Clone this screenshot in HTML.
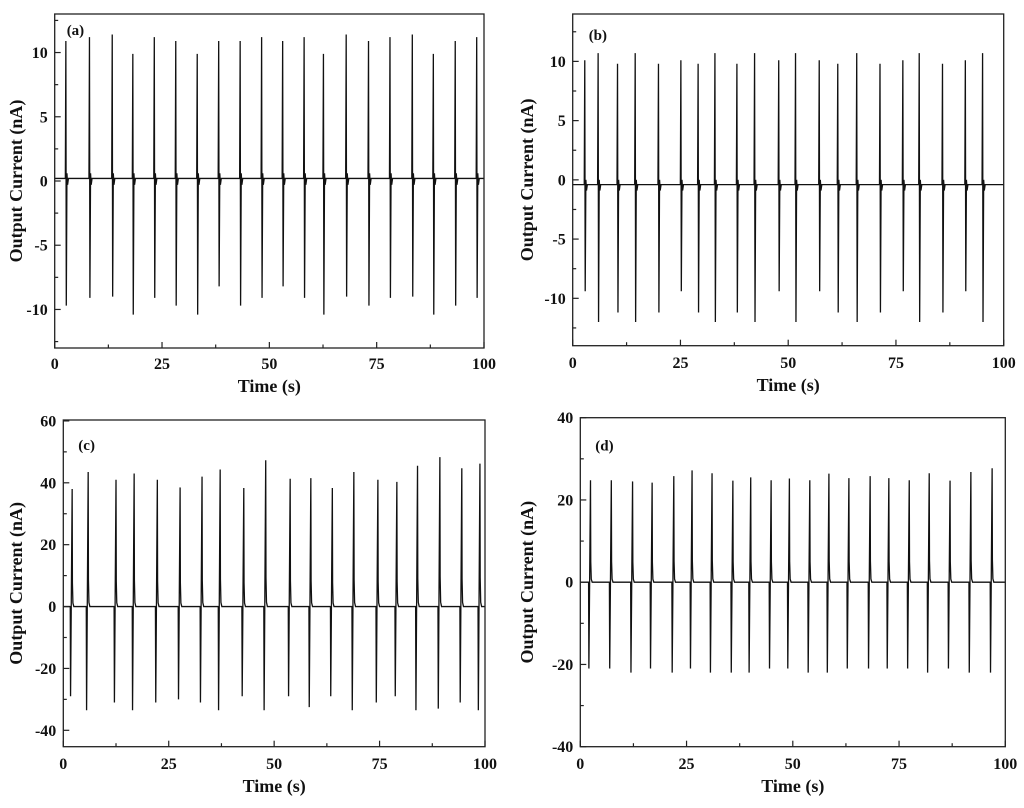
<!DOCTYPE html>
<html><head><meta charset="utf-8"><style>
html,body{margin:0;padding:0;background:#fff;}
svg text{font-family:"Liberation Serif",serif;font-weight:bold;fill:#111;}
</style></head><body>
<svg id="fig" width="1024" height="803" viewBox="0 0 1024 803" xmlns="http://www.w3.org/2000/svg"></svg>
<script>
// ---- Panel (a) data ----
const aTimes=[2.6,8.1,13.4,18.2,23.2,28.2,33.2,38.2,43.2,48.2,53.1,58.1,62.6,67.9,73.1,78.1,83.3,88.2,93.3,98.3];
const aPeaks=[10.9,11.2,11.4,9.9,11.2,10.9,9.9,10.9,10.9,11.2,10.9,11.2,9.9,11.4,10.9,11.2,11.4,9.9,10.9,11.2];
const aTroughs=[-9.7,-9.1,-9,-10.4,-9.1,-9.7,-10.4,-8.2,-9.7,-9.1,-8.2,-9.1,-10.4,-9,-9.7,-9.1,-9,-10.4,-9.7,-9.1];
const aYTicks=[-10,-5,0,5,10];
// ---- Panel (b) data ----
const bTimes=[2.8,5.9,10.4,14.5,19.9,25.1,29.1,33.0,38.1,42.2,47.8,51.7,57.2,61.5,65.9,71.3,76.6,80.4,85.8,91.1,95.1];
const bPeaks=[10.1,10.7,9.8,10.7,9.8,10.1,9.8,10.7,9.8,10.7,10.1,10.7,10.1,9.8,10.7,9.8,10.1,10.7,9.8,10.1,10.7];
const bTroughs=[-9.4,-12,-11.2,-12,-11.2,-9.4,-11.2,-12,-11.2,-12,-9.4,-12,-9.4,-11.2,-12,-11.2,-9.4,-12,-11.2,-9.4,-12];
const bYTicks=[-10,-5,0,5,10];
// ---- Panel (c) data ----
const cTimes=[2.1,5.9,12.5,16.8,22.3,27.7,32.9,37.2,42.8,48.0,53.8,58.7,63.8,68.9,74.6,79.1,84.0,89.3,94.5,98.8];
const cPeaks=[38,43.5,41,43,41,38.5,42,44.3,38.3,47.3,41.3,41.5,38.3,43.5,41,40.3,45.5,48.3,44.7,46.2];
const cTroughs=[-29,-33.5,-31,-33.5,-31,-30,-31,-33.5,-29,-33.5,-29,-32.5,-29,-33.5,-31,-29,-33.5,-33,-31,-33.5];
const cYTicks=[-40,-20,0,20,40,60];
// ---- Panel (d) data ----
const dTimes=[2.4,7.3,12.3,16.9,22.0,26.3,31.0,35.9,40.1,44.9,49.2,54.0,58.5,63.2,68.2,72.6,77.4,82.1,87.0,91.9,96.9];
const dPeaks=[24.8,24.8,24.5,24.2,25.8,27.2,26.5,24.7,25.5,24.8,25.2,24.8,26.4,25.3,25.8,25.3,24.8,26.5,24.7,26.8,27.7];
const dTroughs=[-21,-21,-22,-21,-22,-21,-22,-22,-22,-21,-21,-22,-22,-21,-21,-21,-21,-22,-21,-22,-22];
const dYTicks=[-40,-20,0,20,40];
const xTicks=[0,25,50,75,100];

const NS="http://www.w3.org/2000/svg";
const svg=document.getElementById('fig');
function mk(tag,attrs,parent){const e=document.createElementNS(NS,tag);for(const k in attrs)e.setAttribute(k,attrs[k]);(parent||svg).appendChild(e);return e;}

const panels=[
 {id:'a',x0:54.7,x1:484,y0:14,y1:348,ymin:-13,ymax:13,minor:2.5,times:aTimes,peaks:aPeaks,troughs:aTroughs,yt:aYTicks,base:0.2,mode:'pt',labY:363,titleY:386},
 {id:'b',x0:572.7,x1:1003.7,y0:14,y1:345.7,ymin:-14,ymax:14,minor:2.5,times:bTimes,peaks:bPeaks,troughs:bTroughs,yt:bYTicks,base:-0.4,mode:'pt',labY:362,titleY:385},
 {id:'c',x0:63.3,x1:485,y0:420,y1:746.7,ymin:-45.3,ymax:60.3,minor:10,times:cTimes,peaks:cPeaks,troughs:cTroughs,yt:cYTicks,base:0,mode:'tp',labY:763,titleY:786},
 {id:'d',x0:580.3,x1:1005.3,y0:417.7,y1:746.7,ymin:-40,ymax:40,minor:10,times:dTimes,peaks:dPeaks,troughs:dTroughs,yt:dYTicks,base:0,mode:'tp',labY:763,titleY:786}
];

panels.forEach(p=>{
  const g=mk('g',{});
  
  
  const sx=t=>p.x0+(t/100)*(p.x1-p.x0);
  const sy=v=>p.y1-(v-p.ymin)/(p.ymax-p.ymin)*(p.y1-p.y0);
  let pts=[[0,p.base]];
  p.times.forEach((t,i)=>{
    const pk=p.peaks[i],tr=p.troughs[i];
    if(p.mode==='pt'){
      pts.push([t-0.12,p.base],[t,pk],[t+0.1,tr],[t+0.25,p.base+0.4],[t+0.4,p.base-0.5],[t+0.6,p.base]);
    }else{
      pts.push([t-0.45,p.base],[t-0.38,tr],[t,pk],[t+0.06,pk*0.2],[t+0.18,p.base+pk*0.03],[t+0.4,p.base]);
    }
  });
  pts.push([100,p.base]);
  const d=pts.map((q,i)=>(i?'L':'M')+sx(q[0]).toFixed(2)+' '+sy(q[1]).toFixed(2)).join(' ');
  const line=mk('path',{d:d,fill:'none',stroke:'#111','stroke-width':1.3,'stroke-linejoin':'miter'},g);
  
  
  const fr=mk('rect',{x:p.x0,y:p.y0,width:p.x1-p.x0,height:p.y1-p.y0,fill:'none',stroke:'#222','stroke-width':1.3},g);
  
  
  xTicks.forEach(t=>{
    mk('line',{x1:sx(t),x2:sx(t),y1:p.y1,y2:p.y1-6,stroke:'#222','stroke-width':1.2},g);
    if(t<100) mk('line',{x1:sx(t+12.5),x2:sx(t+12.5),y1:p.y1,y2:p.y1-3.5,stroke:'#222','stroke-width':1.2},g);
    const tx=mk('text',{x:sx(t),y:p.labY+6,'font-size':16,'text-anchor':'middle'},g);
    tx.textContent=t;
    
    
  });
  for(let v=Math.ceil(p.ymin/p.minor)*p.minor; v<=p.ymax; v+=p.minor){
    const major=p.yt.includes(v);
    mk('line',{x1:p.x0,x2:p.x0+(major?6:3.5),y1:sy(v),y2:sy(v),stroke:'#222','stroke-width':1.2},g);
  }
  p.yt.forEach(v=>{
    const ty=mk('text',{x:p.x0-7,y:sy(v)+5.5,'font-size':16,'text-anchor':'end'},g);
    ty.textContent=v;
    
    
  });
  const xt=mk('text',{x:(p.x0+p.x1)/2,y:p.titleY+6,'font-size':18,'text-anchor':'middle'},g);
  xt.textContent='Time (s)';
  
  
  const cy=(p.y0+p.y1)/2, cx=p.id==='a'||p.id==='c'?16:527;
  const yt=mk('text',{x:cx,y:cy,'font-size':18,'text-anchor':'middle',transform:'rotate(-90 '+cx+' '+cy+')',dy:6},g);
  yt.textContent='Output Current (nA)';
  
  
  const pl=mk('text',{x:p.x0+(p.id==='a'?12:p.id==='b'?16:15),y:p.y0+(p.id==='a'?21:p.id==='b'?26:p.id==='c'?30:33),'font-size':15},g);
  pl.textContent='('+p.id+')';
  
  
});
</script>
</body></html>
